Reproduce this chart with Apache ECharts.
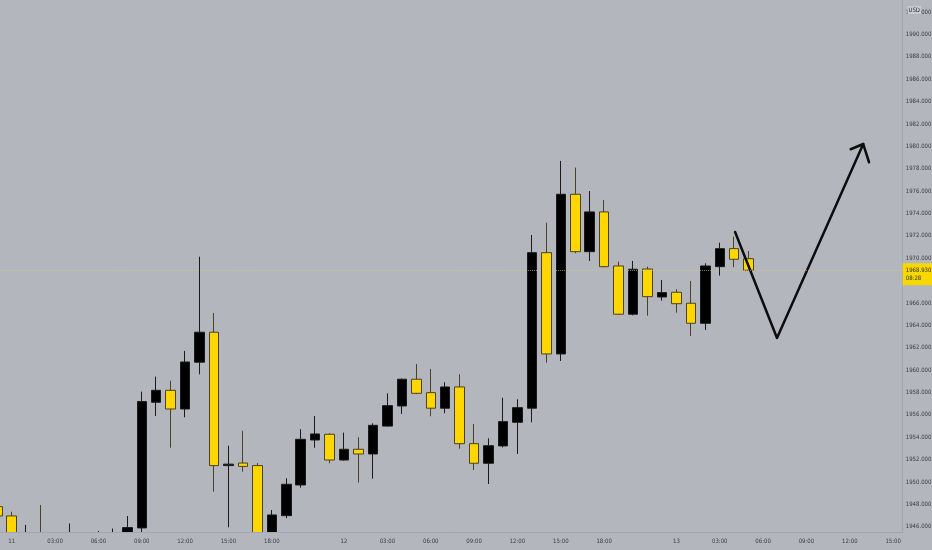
<!DOCTYPE html>
<html>
<head>
<meta charset="utf-8">
<script src="https://cdn.jsdelivr.net/npm/echarts@6/dist/echarts.min.js"></script>
<style>
html,body{margin:0;padding:0;background:#b3b6bd;}
#c{width:932px;height:550px;}
</style>
</head>
<body>
<div id="c"></div>
<script>
// hourly bar labels (index = bar position); gold session skips 23:00
const times = ['10 22:00',
 '11 00:00','11 01:00','11 02:00','11 03:00','11 04:00','11 05:00','11 06:00','11 07:00','11 08:00','11 09:00','11 10:00','11 11:00','11 12:00','11 13:00','11 14:00','11 15:00','11 16:00','11 17:00','11 18:00','11 19:00','11 20:00','11 21:00','11 22:00',
 '12 00:00','12 01:00','12 02:00','12 03:00','12 04:00','12 05:00','12 06:00','12 07:00','12 08:00','12 09:00','12 10:00','12 11:00','12 12:00','12 13:00','12 14:00','12 15:00','12 16:00','12 17:00','12 18:00','12 19:00','12 20:00','12 21:00','12 22:00',
 '13 00:00','13 01:00','13 02:00','13 03:00','13 04:00','13 05:00','13 06:00','13 07:00','13 08:00','13 09:00','13 10:00','13 11:00','13 12:00','13 13:00','13 14:00','13 15:00'];
const xLabelIdx = [1,4,7,10,13,16,19,24,27,30,33,36,39,42,47,50,53,56,59,62];
const yLabels = [1946,1948,1950,1952,1954,1956,1958,1960,1962,1964,1966,1968,1970,1972,1974,1976,1978,1980,1982,1984,1986,1988,1990,1992];

const opens  = [1947.80,1946.97,1944.60,1944.90,1944.30,1944.00,1944.50,1944.20,1944.80,1945.45,1945.90,1957.13,1958.20,1956.53,1960.71,1963.39,1951.47,1951.70,1951.47,1945.10,1947.00,1949.74,1953.76,1954.27,1951.97,1952.93,1952.51,1955.00,1956.80,1959.19,1957.99,1956.60,1958.50,1953.43,1951.68,1953.23,1955.34,1956.60,1970.50,1961.45,1975.72,1970.59,1974.14,1969.31,1965.00,1969.04,1966.54,1966.96,1965.98,1964.19,1969.25,1970.86,1969.96];
const closes = [1946.97,1944.60,1944.90,1944.30,1944.00,1944.50,1944.20,1944.80,1945.00,1945.93,1957.19,1958.20,1956.53,1960.73,1963.39,1951.47,1951.60,1951.40,1945.00,1947.06,1949.80,1953.82,1954.30,1951.97,1952.93,1952.51,1955.07,1956.83,1959.19,1957.93,1956.60,1958.50,1953.43,1951.68,1953.25,1955.40,1956.65,1970.50,1961.45,1975.72,1970.59,1974.14,1969.25,1965.00,1969.02,1966.57,1966.93,1965.94,1964.19,1969.31,1970.86,1969.91,1968.93];
const lows   = [1946.80,1944.20,1943.80,1943.60,1943.20,1943.50,1943.70,1943.90,1944.30,1945.20,1945.30,1955.91,1953.07,1955.79,1959.63,1949.14,1945.96,1950.93,1944.60,1944.80,1946.77,1949.50,1953.07,1951.68,1951.90,1949.95,1950.30,1954.95,1956.09,1957.85,1955.88,1956.15,1952.98,1951.08,1949.83,1953.10,1952.51,1955.34,1960.67,1960.82,1970.45,1969.76,1969.20,1964.95,1964.90,1964.87,1966.21,1965.14,1963.06,1963.59,1968.45,1969.20,1968.90];
const highs  = [1948.00,1947.35,1946.17,1947.95,1945.20,1946.30,1945.10,1945.63,1945.85,1946.97,1958.08,1959.42,1959.06,1961.72,1970.14,1965.11,1953.25,1954.59,1951.70,1947.50,1950.34,1954.72,1955.91,1954.35,1954.42,1954.00,1955.25,1957.93,1959.25,1960.55,1960.11,1958.92,1959.63,1955.19,1953.91,1957.54,1957.40,1972.08,1973.18,1978.70,1978.10,1976.01,1975.21,1969.70,1969.76,1969.25,1968.06,1967.23,1967.97,1969.55,1971.39,1971.93,1970.65];

const lastPrice = 1968.93;
const lastLabel = '1968.930\n08:28';
// hand-drawn projection arrow (bar index, price)
const arrowPath = [[51.06,1972.35],[53.96,1962.88],[59.93,1980.21]];
const arrowHead = [[59.06,1979.74],[59.93,1980.21],[60.33,1978.58]];

const candleData = opens.map((o,i)=>[i, o, closes[i], lows[i], highs[i]]);

function xLabel(v){
  const t = times[Math.round(v)];
  if(!t) return '';
  const [d,h] = t.split(' ');
  return h === '00:00' ? d : h;
}

const BG = '#b3b6bd';
const FONT = '"Liberation Sans Narrow", "DejaVu Sans Condensed", "Liberation Sans", sans-serif';
const chart = echarts.init(document.getElementById('c'));
chart.setOption({
  backgroundColor:BG,
  animation:false,
  grid:{left:0,right:29.3,top:0,bottom:17.7,outerBoundsMode:'none',containLabel:false},
  xAxis:{
    type:'value', min:0.19, max:62.66, z:10,
    splitLine:{show:false},
    axisLine:{show:true,lineStyle:{color:'#a3a6ae',width:1}},
    axisTick:{show:false},
    axisLabel:{customValues:xLabelIdx, formatter:xLabel, color:'#3a3c42', fontSize:6, margin:6, fontFamily:FONT}
  },
  yAxis:{
    type:'value', position:'right', min:1945.51, max:1993.08, scale:true, z:10,
    splitLine:{show:false},
    axisLine:{show:true,lineStyle:{color:'#a3a6ae',width:1}},
    axisTick:{show:false},
    axisLabel:{customValues:yLabels, formatter:v=>v.toFixed(3), color:'#3a3c42', fontSize:6, margin:3, fontFamily:FONT}
  },
  series:[
    {
      type:'candlestick',
      data:candleData,
      barWidth:10,
      clip:true,
      itemStyle:{color:'#000000',borderColor:'#1a1a1a',color0:'#ffd600',borderColor0:'#4a4220',borderWidth:1},
      markLine:{
        symbol:'none', silent:true, z:12,
        lineStyle:{color:'rgba(214,200,110,0.6)',type:'dotted',width:1},
        label:{show:true, position:'end', formatter:lastLabel, backgroundColor:'#f7d800', color:'#333', fontSize:6, lineHeight:8, padding:[3,4,3,3], distance:0, offset:[0,4], fontFamily:FONT, align:'left', opacity:1},
        data:[{yAxis:lastPrice}]
      }
    },
    {
      type:'line', data:arrowPath, symbol:'none', silent:true,
      lineStyle:{color:'#0d0d0d',width:2.5,cap:'round',join:'round'}, z:5
    },
    {
      type:'line', data:arrowHead, symbol:'none', silent:true,
      lineStyle:{color:'#0d0d0d',width:2.5,cap:'round',join:'round'}, z:5
    }
  ],
  graphic:[
    {
      type:'rect', left:0, bottom:0, z:8, silent:true,
      shape:{width:932,height:17.2},
      style:{fill:BG}
    },
    {
      type:'text', right:11, top:6, z:100,
      style:{text:'USD', fill:'#2e3036', fontSize:6, fontFamily:FONT, backgroundColor:'#c8cacf', padding:[1,1,1,1]}
    }
  ]
});
</script>
</body>
</html>
